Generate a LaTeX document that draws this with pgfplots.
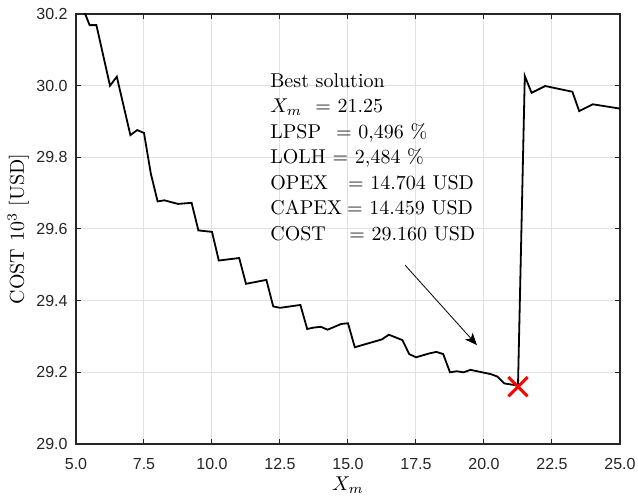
\documentclass[border=0pt]{standalone}
\usepackage{fontspec}
\usepackage{pgfplots}
\pgfplotsset{compat=1.18}
\usetikzlibrary{arrows.meta}
\newfontfamily\ticksf{Liberation Sans}
\definecolor{axgray}{rgb}{0.15,0.15,0.15}
\definecolor{gridgray}{rgb}{0.88,0.88,0.88}
\begin{document}
\begin{tikzpicture}
\begin{axis}[
  scale only axis=true,
  width=272pt, height=215pt,
  xmin=5, xmax=25, ymin=29, ymax=30.2,
  xtick={5,7.5,10,12.5,15,17.5,20,22.5,25},
  ytick={29,29.2,29.4,29.6,29.8,30,30.2},
  /pgf/number format/assume math mode=true,
  /pgf/number format/.cd, fixed, fixed zerofill, precision=1, /pgfplots/.cd,
  ticklabel style={font=\ticksf\fontsize{8}{9}\selectfont, text=axgray},
  xticklabel style={yshift=-3.6pt, inner xsep=0pt},
  yticklabel style={xshift=-0.7pt, inner ysep=0pt},
  tick align=inside,
  major tick length=2.6pt,
  tick style={axgray, line width=0.5pt},
  axis line style={axgray, line width=0.6pt},
  grid=major,
  major grid style={gridgray, line width=0.5pt},
  xlabel={$X_m$},
  ylabel={COST $10^3$ [USD]},
  label style={font=\fontsize{10}{12}\selectfont, inner sep=0.5pt},
  xlabel style={at={(axis description cs:0.5,-0.107)}, anchor=base},
  ylabel style={at={(axis description cs:-0.0956,0.5)}, anchor=base},
  clip=true,
]
\addplot[black, line width=0.9pt] coordinates {
(5.25,30.217) (5.5,30.169) (5.75,30.169) (6.25,30.0) (6.5,30.025)
(7.0,29.862) (7.25,29.876) (7.5,29.868) (7.75,29.755) (8.0,29.677)
(8.25,29.680) (8.75,29.670) (9.25,29.673) (9.5,29.596) (10.0,29.592)
(10.25,29.512) (11.0,29.519) (11.25,29.447) (12.0,29.458) (12.25,29.384)
(12.5,29.380) (13.25,29.388) (13.5,29.321) (13.75,29.325) (14.0,29.327)
(14.25,29.319) (14.75,29.335) (15.0,29.337) (15.25,29.270) (16.25,29.292)
(16.5,29.305) (17.0,29.290) (17.25,29.251) (17.5,29.242) (18.0,29.253)
(18.25,29.257) (18.5,29.251) (18.75,29.200) (19.0,29.203) (19.25,29.200)
(19.5,29.207) (20.25,29.195) (20.5,29.188) (20.75,29.169) (21.25,29.163)
(21.5,30.027) (21.75,29.980) (22.25,29.999) (23.25,29.983) (23.5,29.929)
(24.0,29.948) (25.0,29.936)
};
\addplot[only marks, mark=x, mark size=6.8pt, red, line width=1.5pt, mark options={solid}] coordinates {(21.25,29.16)};
\draw[black, line width=0.4pt, -{Stealth[length=6pt,width=5pt,inset=1.5pt]}] (axis cs:17.10,29.499) -- (axis cs:19.74,29.276);
\begin{scope}[every node/.style={anchor=base west, inner sep=0pt, font=\fontsize{10}{12}\selectfont}]
\node at (axis cs:12.13,29.9954) {Best solution};
\node at (axis cs:12.13,29.9245) {\makebox[22.5pt][l]{$X_m$}$=$ 21.25};
\node at (axis cs:12.13,29.8531) {\makebox[32.9pt][l]{LPSP}$=$ 0,496 \%};
\node at (axis cs:12.13,29.7833) {\makebox[31.2pt][l]{LOLH}$=$ 2,484 \%};
\node at (axis cs:12.13,29.7107) {\makebox[38.9pt][l]{OPEX}$=$ 14.704 USD};
\node at (axis cs:12.13,29.6410) {\makebox[38.4pt][l]{CAPEX}$=$ 14.459 USD};
\node at (axis cs:12.13,29.5692) {\makebox[39.5pt][l]{COST}$=$ 29.160 USD};
\end{scope}
\end{axis}
\path ([shift={(-38pt,-27pt)}]current axis.south west) rectangle ([shift={(9pt,7pt)}]current axis.north east);
\end{tikzpicture}
\end{document}
